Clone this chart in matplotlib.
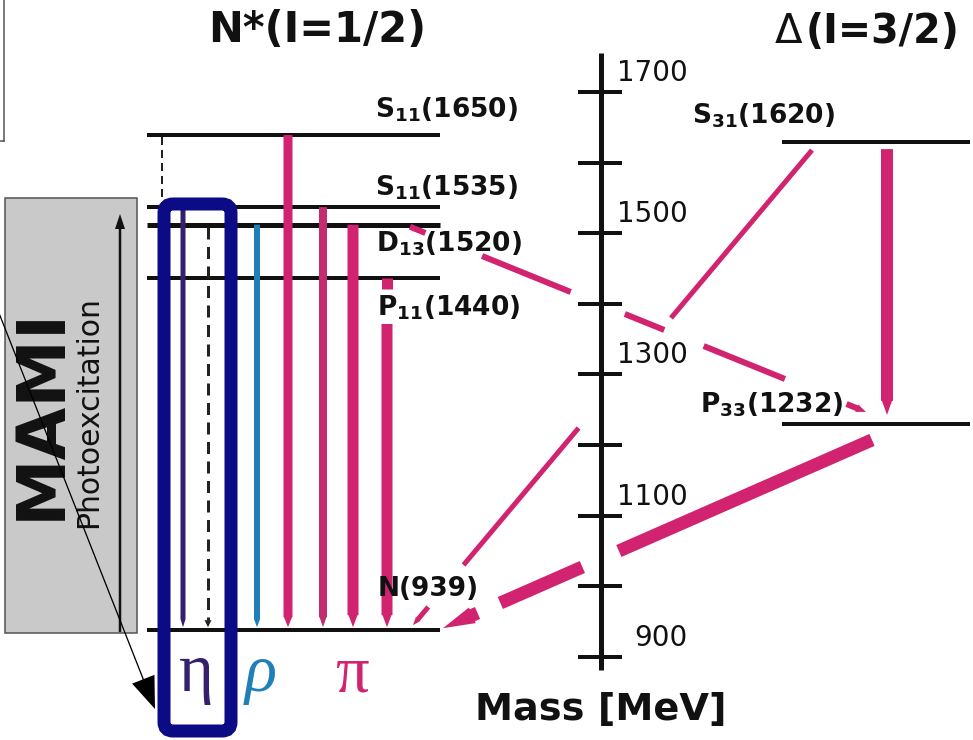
import matplotlib
matplotlib.use("Agg")
import matplotlib.pyplot as plt
from matplotlib.patches import FancyArrowPatch, Rectangle, FancyBboxPatch, ArrowStyle

plt.rcParams['font.family'] = ['DejaVu Sans']
plt.rcParams['mathtext.fontset'] = 'dejavusans'

# ---------------- data ----------------
nstar_states = ["S11(1650)", "S11(1535)", "D13(1520)", "P11(1440)", "N(939)"]
nstar_mass = [1639, 1537, 1512, 1437, 938]          # level heights on the mass scale
delta_states = ["S31(1620)", "P33(1232)"]
delta_mass = [1629, 1230]
mass_ticks = [900, 1000, 1100, 1200, 1300, 1400, 1500, 1600, 1700]
mass_ticklabels = ["900", "1100", "1300", "1500", "1700"]
meson_symbols = ["η", "ρ", "π"]
# decays: (initial state, final state, emitted meson)
decays = [
    ("S11(1650)", "N(939)", "η"),
    ("S11(1535)", "N(939)", "η"),
    ("D13(1520)", "N(939)", "η"),
    ("D13(1520)", "N(939)", "ρ"),
    ("S11(1650)", "N(939)", "π"),
    ("S11(1535)", "N(939)", "π"),
    ("D13(1520)", "N(939)", "π"),
    ("P11(1440)", "N(939)", "π"),
    ("S31(1620)", "P33(1232)", "π"),
    ("D13(1520)", "P33(1232)", "π"),
    ("S31(1620)", "N(939)", "π"),
    ("P33(1232)", "N(939)", "π"),
]

# ---------------- layout / style ----------------
W, H = 973, 740
PX_PER_MEV = 0.7063       # vertical scale of the mass axis
Y900 = 657                # pixel row of 900 MeV


def mev(py):
    """convert a layout pixel row into the mass coordinate"""
    return 900 + (Y900 - py) / PX_PER_MEV


def pt(px):
    return px * 72.0 / 100.0


ETA = "#34206c"
RHO = "#1f80b9"
PI = "#d1236f"
PI2 = "#c12d6e"
NAVY = "#0b0b86"

level_mass = dict(zip(nstar_states + delta_states, nstar_mass + delta_mass))

fig = plt.figure(figsize=(W / 100, H / 100), dpi=100)
ax = fig.add_axes([0, 0, 1, 1])
ax.set_xlim(0, W)
ax.set_ylim(mev(H), mev(0))
ax.axis('off')

# ---- MAMI photo-excitation panel ----
ax.add_patch(Rectangle((5, mev(633)), 132, mev(198) - mev(633),
                       facecolor="#c9c9c9", edgecolor="#505050", lw=pt(1.5), zorder=1))
ax.text(60, mev(413), "MAMI", rotation=90, rotation_mode='anchor', ha='center',
        va='baseline', fontsize=49, fontweight='bold', color='#111111', zorder=2)
ax.text(97.5, mev(412), "Photoexcitation", rotation=90, rotation_mode='anchor',
        ha='center', va='baseline', fontsize=21.5, color='#111111', zorder=2)
ax.add_patch(FancyArrowPatch((120, mev(632)), (120, mev(214)),
                             arrowstyle=ArrowStyle.Simple(head_length=pt(15), head_width=pt(10),
                                                          tail_width=pt(2.5)),
                             mutation_scale=1, lw=0, color='#111111', shrinkA=0, shrinkB=0, zorder=2))

# top-left frame remnant
ax.plot([4, 4], [mev(-2), mev(141)], color='#505050', lw=pt(1.5), zorder=2)
ax.plot([-2, 4], [mev(141), mev(141)], color='#505050', lw=pt(1.5), zorder=2)

# ---- energy levels ----
for name, m in zip(nstar_states, nstar_mass):
    ax.plot([147, 440], [m, m], color='#111111', lw=pt(5 if name.startswith("D13") else 4),
            solid_capstyle='butt', zorder=2)
for name, m in zip(delta_states, delta_mass):
    ax.plot([782, 970], [m, m], color='#111111', lw=pt(4), solid_capstyle='butt', zorder=2)

# ---- transitions ----
# per decay: x start, x end, width px, colour, dashed, start offset px (down),
# end offset px (up), gaps (pixel rows), arrow head (length, width) px
decay_layout = [
    dict(x=(162, 162), w=2, c='#222222', dash=True, d=(2, 3), gaps=[], head=(6, 6)),
    dict(x=(183, 183), w=5, c=ETA, dash=False, d=(0, 3), gaps=[], head=(8, 5)),
    dict(x=(208, 208), w=3, c='#222222', dash=True, d=(2, 3), gaps=[], head=(7, 7)),
    dict(x=(257, 257), w=6, c=RHO, dash=False, d=(0, 3), gaps=[], head=(8, 6)),
    dict(x=(288, 288), w=9, c=PI, dash=False, d=(0, 3), gaps=[], head=(10, 8)),
    dict(x=(323, 323), w=8, c=PI2, dash=False, d=(0, 3), gaps=[], head=(10, 7)),
    dict(x=(353, 353), w=11, c=PI, dash=False, d=(0, 3), gaps=[], head=(12, 9)),
    dict(x=(387, 387), w=11, c=PI, dash=False, d=(0, 3), gaps=[(289, 324)], head=(12, 9)),
    dict(x=(887, 887), w=12, c=PI, dash=False, d=(7, 9), gaps=[], head=(14, 10)),
    dict(x=(410, 866), w=6, c=PI, dash=False, d=(2, 12),
         gaps=[(233, 256), (292, 314), (330, 346), (379, 404)], head=(10, 8)),
    dict(x=(812, 413), w=5, c=PI, dash=False, d=(8, 5),
         gaps=[(318, 428), (565, 607)], head=(8, 6)),
    dict(x=(872, 443), w=13, c=PI, dash=False, d=(16, 2),
         gaps=[(551, 567), (603, 613)], head=(32, 17)),
]

for (src, dst, meson), lay in zip(decays, decay_layout):
    x0, x1 = lay['x']
    m0 = level_mass[src] - lay['d'][0] / PX_PER_MEV
    m1 = level_mass[dst] + lay['d'][1] / PX_PER_MEV
    # split into visible pieces
    ts = [0.0]
    for g0, g1 in lay['gaps']:
        ts += [(mev(g0) - m0) / (m1 - m0), (mev(g1) - m0) / (m1 - m0)]
    ts.append(1.0)
    pieces = [(ts[i], ts[i + 1]) for i in range(0, len(ts), 2)]
    hl, hw = lay['head']
    for k, (ta, tb) in enumerate(pieces):
        xa, ma = x0 + (x1 - x0) * ta, m0 + (m1 - m0) * ta
        xb, mb = x0 + (x1 - x0) * tb, m0 + (m1 - m0) * tb
        last = k == len(pieces) - 1
        if lay['dash']:
            ax.plot([xa, xb], [ma, mb + (hl / PX_PER_MEV if last else 0)],
                    color=lay['c'], lw=pt(lay['w']), dashes=(4, 2.5), zorder=3)
            if last:
                ax.add_patch(FancyArrowPatch((xb, mb + hl / PX_PER_MEV), (xb, mb),
                                             arrowstyle=ArrowStyle.Simple(head_length=pt(hl), head_width=pt(hw),
                                                                          tail_width=pt(0.5)),
                                             mutation_scale=1, lw=0, color=lay['c'],
                                             shrinkA=0, shrinkB=0, zorder=3))
        elif last:
            ax.add_patch(FancyArrowPatch((xa, ma), (xb, mb),
                                         arrowstyle=ArrowStyle.Simple(head_length=pt(hl), head_width=pt(hw),
                                                                      tail_width=pt(lay['w'])),
                                         mutation_scale=1, lw=0, color=lay['c'],
                                         shrinkA=0, shrinkB=0, zorder=3))
        else:
            ax.plot([xa, xb], [ma, mb], color=lay['c'], lw=pt(lay['w']),
                    solid_capstyle='butt', zorder=3)


# ---- state labels ----
def state_label(name):
    if name[1].isdigit():
        return name[0] + r"$_{\mathbf{" + name[1:3] + "}}$" + name[3:]
    return name


label_pos = {  # left x, baseline row (px)
    "S11(1650)": (375, 118), "S11(1535)": (375, 195), "D13(1520)": (376, 252),
    "P11(1440)": (377, 315), "N(939)": (378, 596),
    "S31(1620)": (692, 123), "P33(1232)": (700, 412),
}
for name in nstar_states + delta_states:
    lx, ly = label_pos[name]
    ax.text(lx, mev(ly), state_label(name), fontsize=19, fontweight='bold',
            ha='left', va='baseline', color='#111111', zorder=4)

# ---- titles ----
ax.text(208, mev(42), "N*(I=1/2)", fontsize=30, fontweight='bold', ha='left',
        va='baseline', color='#111111', zorder=4)
ax.text(775, mev(43), "Δ", fontsize=29, ha='left', va='baseline', color='#111111', zorder=4)
ax.text(806, mev(43), "(I=3/2)", fontsize=28.5, fontweight='bold', ha='left',
        va='baseline', color='#111111', zorder=4)

# ---- mass axis ----
ax.plot([601, 601], [mev(670), mev(53)], color='#111111', lw=pt(5), solid_capstyle='butt', zorder=4)
for t in mass_ticks:
    ax.plot([578, 622], [t, t], color='#111111', lw=pt(4), solid_capstyle='butt', zorder=4)
for lab in mass_ticklabels:
    ax.text(688, float(lab) + 11 / PX_PER_MEV, lab, fontsize=20, ha='right', va='baseline',
            color='#111111', zorder=4)
ax.text(601, mev(720), "Mass [MeV]", fontsize=27.5, fontweight='bold', ha='center',
        va='baseline', color='#111111', zorder=4)

# ---- meson symbols ----
meson_style = {"η": (196, ETA, 'normal'), "ρ": (261, RHO, 'italic'), "π": (352, PI, 'normal')}
for s in meson_symbols:
    mx, col, sty = meson_style[s]
    ax.text(mx, mev(691), s, fontsize=48, family=['Liberation Serif', 'DejaVu Serif'],
            style=sty, ha='center', va='baseline', color=col, zorder=4)

# ---- pointer line and highlight box ----
ax.add_patch(FancyArrowPatch((-5, mev(303)), (155, mev(709)),
                             arrowstyle=ArrowStyle.Simple(head_length=pt(32), head_width=pt(24),
                                                          tail_width=pt(1.3)),
                             mutation_scale=1, lw=0, color='black', shrinkA=0, shrinkB=0, zorder=5))
ax.add_patch(FancyBboxPatch((164, mev(731)), 231 - 164, mev(204) - mev(731),
                            boxstyle="round,pad=0,rounding_size=9", mutation_aspect=1 / PX_PER_MEV,
                            facecolor='none', edgecolor=NAVY, lw=pt(13), zorder=6))

fig.savefig("out.png", dpi=100)
